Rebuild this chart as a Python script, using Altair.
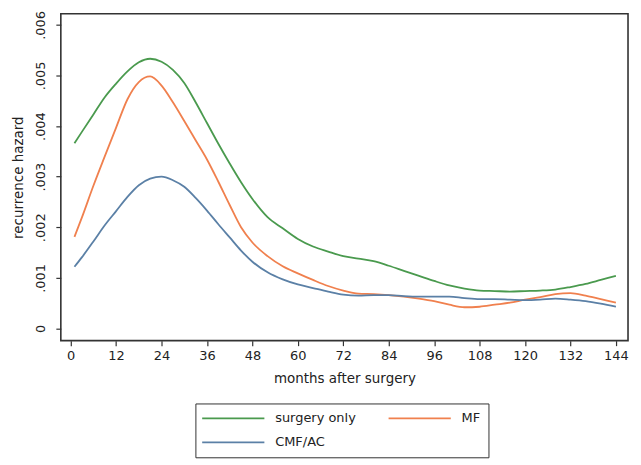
import altair as alt
import pandas as pd

months = [1, 3, 6, 9, 12, 15, 18, 21, 24, 27, 30, 33, 36, 39, 42, 45, 48, 52, 56, 60,
          64, 68, 72, 76, 80, 84, 88, 92, 96, 100, 104, 108, 112, 116, 120, 124, 128,
          132, 136, 140, 144]

surgery_only = [.00366, .00389, .00423, .00457, .00484, .00508, .00526, .00533, .00527,
                .00511, .00485, .00447, .00406, .00365, .00326, .00289, .00256, .0022,
                .00198, .00177, .00162, .00152, .00143, .00138, .00133, .00124, .00114,
                .00104, .00094, .00085, .00079, .00075, .00074, .00073, .00074, .00075,
                .00077, .00082, .00088, .00096, .00104]

mf = [.00181, .0022, .00282, .0034, .00397, .00453, .00487, .00498, .0048, .00447,
      .0041, .00372, .00334, .0029, .00244, .002, .0017, .00143, .00123, .00109,
      .00096, .00084, .00075, .00069, .00068, .00066, .00063, .00059, .00054, .00047,
      .00042, .00043, .00047, .00051, .00057, .00062, .00068, .0007, .00065, .00058,
      .00051]

cmf_ac = [.00122, .00141, .00172, .00204, .00232, .0026, .00283, .00296, .003, .00293,
          .0028, .00258, .00233, .00206, .0018, .00154, .00132, .00111, .00097, .00087,
          .0008, .00073, .00067, .00065, .00066, .00066, .00064, .00063, .00063, .00063,
          .0006, .00058, .00058, .00057, .00056, .00057, .00059, .00057, .00054, .00049,
          .00043]

series_names = ["surgery only", "MF", "CMF/AC"]
series_colors = ["#4a9a4e", "#f0804e", "#5b80a6"]
x_ticks = list(range(0, 145, 12))
y_ticks = [0, .001, .002, .003, .004, .005, .006]

rows = []
for name, vals in zip(series_names, [surgery_only, mf, cmf_ac]):
    for m, v in zip(months, vals):
        rows.append({"month": m, "hazard": v, "group": name})
df = pd.DataFrame(rows)

FONT = "DejaVu Sans"

chart = alt.Chart(df).mark_line(strokeWidth=1.8, interpolate="monotone").encode(
    x=alt.X("month:Q",
            scale=alt.Scale(domain=[-2.6, 147.2], nice=False, zero=False),
            axis=alt.Axis(values=x_ticks, title="months after surgery", grid=False,
                          labelPadding=4, titlePadding=9)),
    y=alt.Y("hazard:Q",
            scale=alt.Scale(domain=[-0.00024, 0.00622], nice=False, zero=False),
            axis=alt.Axis(values=y_ticks, title="recurrence hazard", grid=False,
                          labelExpr="datum.value == 0 ? '0' : replace(format(datum.value, '.3f'), /^0/, '')",
                          labelAngle=270, labelAlign="center", labelBaseline="bottom",
                          labelPadding=8, titlePadding=9)),
    color=alt.Color("group:N",
                    scale=alt.Scale(domain=series_names, range=series_colors),
                    legend=alt.Legend(
                        title=None, orient="none", legendX=135, legendY=391,
                        columns=2, direction="horizontal",
                        symbolType="M-5.2,0H5.2", symbolSize=144, symbolStrokeWidth=1.8,
                        symbolOffset=23,
                        labelOffset=35, labelFontSize=13, labelFont=FONT,
                        labelColor="#222",
                        padding=8, rowPadding=10, columnPadding=28,
                        strokeColor="#333", fillColor="white")),
).properties(
    width=569, height=328,
    background="white",
    autosize=alt.AutoSizeParams(type="none"),
    padding={"left": 53, "top": 5, "right": 5, "bottom": 120},
).configure_view(
    stroke="#333", strokeWidth=1.6
).configure_axis(
    domain=False, grid=False, ticks=True, tickSize=5, tickColor="#333", tickWidth=1.2,
    labelFont=FONT, labelFontSize=13, labelColor="#222",
    titleFont=FONT, titleFontSize=13.5, titleFontWeight="normal", titleColor="#222",
)

chart.save("out.html", embed_options={"renderer": "svg", "actions": False})
